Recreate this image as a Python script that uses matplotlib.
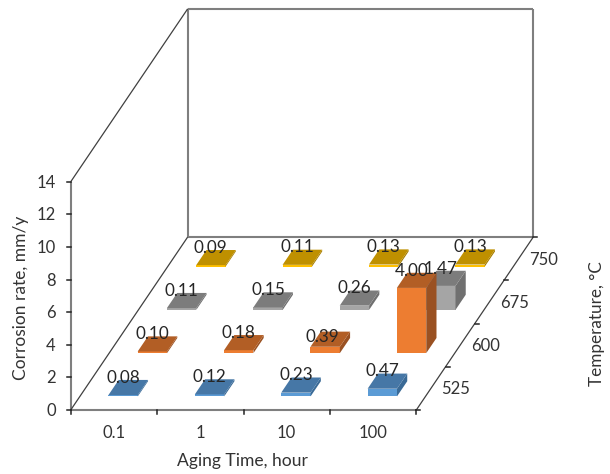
import matplotlib
matplotlib.use("Agg")
import matplotlib.pyplot as plt
from matplotlib.patches import Polygon

plt.rcParams["font.family"] = ["Lato", "DejaVu Sans"]

# chart values
aging_time = ["0.1", "1", "10", "100"]
temperature = ["525", "600", "675", "750"]
rate_525 = [0.08, 0.12, 0.23, 0.47]
rate_600 = [0.10, 0.18, 0.39, 4.00]
rate_675 = [0.11, 0.15, 0.26, 1.47]
rate_750 = [0.09, 0.11, 0.13, 0.13]
z_ticks = [0, 2, 4, 6, 8, 10, 12, 14]

rates = [rate_525, rate_600, rate_675, rate_750]
# front, top, side colours per temperature
face_cols = ["#5B9BD5", "#ED7D31", "#A5A5A5", "#FFC000"]
top_cols = ["#4677A6", "#B25E25", "#7C7C7C", "#BF9000"]
side_cols = ["#3A6A96", "#9A5122", "#707070", "#A67D00"]

# oblique projection used by the Excel 3D column chart
X0, Y0 = 70.7, 410.0
COL_W = 86.4
DEPTH_X, DEPTH_Y = 29.25, 43.25
Z_PX = 16.3
BAR_W = 0.34
BAR_D = 0.35


def proj(col, depth, z=0.0):
    return X0 + col * COL_W + depth * DEPTH_X, Y0 - depth * DEPTH_Y - z * Z_PX


fig = plt.figure(figsize=(6.1, 4.74), dpi=100)
ax = fig.add_axes([0, 0, 1, 1])
ax.set_xlim(0, 610)
ax.set_ylim(474, 0)
ax.axis("off")

n_col = len(aging_time)
n_row = len(temperature)
z_max = z_ticks[-1]
grey = "#7F7F7F"
dark = "#404040"


def line(p, q, color=grey, lw=1.5):
    ax.plot([p[0], q[0]], [p[1], q[1]], color=color, lw=lw, solid_capstyle="butt", zorder=1)


# walls and floor
line(proj(0, 0), proj(0, 0, z_max))
line(proj(0, n_row), proj(0, n_row, z_max))
line(proj(n_col, n_row), proj(n_col, n_row, z_max))
line(proj(0, n_row, z_max), proj(n_col, n_row, z_max))
line(proj(0, n_row), proj(n_col, n_row))
line(proj(0, 0), proj(n_col, 0))
line(proj(0, 0), proj(0, n_row), dark, 0.9)
line(proj(0, 0, z_max), proj(0, n_row, z_max), dark, 0.9)
line(proj(n_col, 0), proj(n_col, n_row), dark, 0.9)

# ticks
for z in z_ticks:
    x, y = proj(0, 0, z)
    ax.plot([x - 4, x], [y, y], color="#222222", lw=1.1, zorder=1)
    ax.text(x - 15, y + 1, str(z), ha="right", va="center", fontsize=12, color="#333333")
for c in range(n_col + 1):
    x, y = proj(c, 0)
    ax.plot([x, x], [y, y + 4], color="#222222", lw=1.1, zorder=1)
for c, lab in enumerate(aging_time):
    x, y = proj(c + 0.5, 0)
    ax.text(x, y + 23, lab, ha="center", va="center", fontsize=12, color="#333333")
for r in range(n_row + 1):
    x, y = proj(n_col, r)
    ax.plot([x, x + 4], [y, y], color="#222222", lw=1.1, zorder=1)
for r, lab in enumerate(temperature):
    x, y = proj(n_col, r + 0.5)
    ax.text(x + 25, y + 1, lab, ha="center", va="center", fontsize=12, color="#333333")

# bars, back row first
for r in range(n_row - 1, -1, -1):
    for c in range(n_col):
        v = rates[r][c]
        c0 = c + 0.5 - BAR_W / 2
        c1 = c + 0.5 + BAR_W / 2
        d0 = r + 0.5 - BAR_D / 2 - 0.01
        d1 = d0 + BAR_D
        z_order = 3 + (n_row - r)
        ax.add_patch(Polygon([proj(c0, d0), proj(c1, d0), proj(c1, d0, v), proj(c0, d0, v)],
                             fc=face_cols[r], ec="none", zorder=z_order))
        ax.add_patch(Polygon([proj(c1, d0), proj(c1, d1), proj(c1, d1, v), proj(c1, d0, v)],
                             fc=side_cols[r], ec="none", zorder=z_order))
        ax.add_patch(Polygon([proj(c0, d0, v), proj(c1, d0, v), proj(c1, d1, v), proj(c0, d1, v)],
                             fc=top_cols[r], ec="none", zorder=z_order))
        x, y = proj(c + 0.5, d0, v)
        # the 0.39 label sits lower, on top of its bar
        off = (-2, 7) if (r, c) == (1, 2) else (0, 12.5)
        ax.annotate(f"{v:.2f}", (x, y), xytext=off, textcoords="offset points",
                    ha="center", va="center", fontsize=12.3, color="#262626", zorder=20)

# axis titles
ax.text(242, 461, "Aging Time, hour", ha="center", va="center", fontsize=12.6, color="#333333")
ax.text(21, 298, "Corrosion rate, mm/y", rotation=90, ha="center", va="center", fontsize=12.5, color="#333333")
ax.text(597, 324, "Temperature, °C", rotation=90, ha="center", va="center", fontsize=12.3, color="#333333")

fig.savefig("out.png", dpi=100)
